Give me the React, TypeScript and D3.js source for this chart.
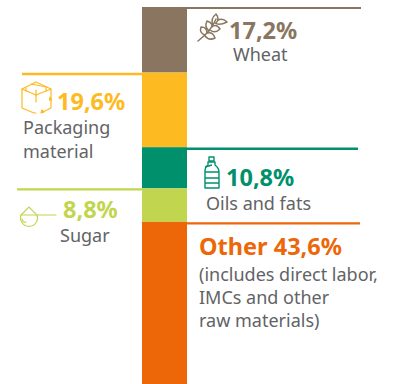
import React from "react";
import * as d3 from "d3";

const categories = ["Wheat", "Packaging material", "Oils and fats", "Sugar", "Other"];
const values = [17.2, 19.6, 10.8, 8.8, 43.6];
const percentLabels = ["17,2%", "19,6%", "10,8%", "8,8%", "Other 43,6%"];
const colors = ["#8a7660", "#fdba21", "#00906b", "#c1d64e", "#ed6608"];
const GREY = "#626366";
const FONT = "'Noto Sans', sans-serif";

function Wheat({ c }: { c: string }) {
  const leaf = (d: string, i: number) => <path key={i} d={d} />;
  return (
    <g transform="translate(198,14)" fill="none" stroke={c} strokeWidth={1.5} strokeLinecap="round" strokeLinejoin="round">
      {[
        "M0,27 L7,21 Q14,14 18,5",
        "M7,21 Q1,19 3,13 Q9,13 9,19",
        "M11,17 Q6,13 9,7 Q15,9 14,13",
        "M15,11 Q12,5 18,0 Q22,5 18,9",
        "M7,22 Q11,27 17,24 Q15,18 10,19",
        "M12,16 Q17,20 22,15 Q19,10 15,12",
        "M17,9 Q21,12 29,8 Q25,4 20,6",
      ].map(leaf)}
    </g>
  );
}

function Box({ c }: { c: string }) {
  return (
    <g transform="translate(22,82)" fill="none" stroke={c} strokeWidth={1.2} strokeLinejoin="round" strokeLinecap="round">
      <path d="M14,0 L29,7 L14,13 L0,7 Z" />
      <path d="M4,9 L4,6 M24,9 L24,5 L9,2" />
      <path d="M0,7 L0,26 L12,31 L14,31 M14,13 L14,20 M29,7 L29,26 L21,30" />
      <path d="M14,8 L14,13" />
      <path d="M27.5,18 L28,15 L29.5,18 Z M19,31 L22,30 L20,28 Z" fill={c} />
    </g>
  );
}

function Bottle({ c }: { c: string }) {
  return (
    <g transform="translate(204,157)" fill="none" stroke={c} strokeWidth={1.4} strokeLinejoin="round">
      <path d="M5,0 L10,0 L10,4 L5,4 Z" />
      <path d="M4,5 L11,5 L11,8 Q15,11 15,15 L15,31 L1,31 L1,14 Q1,10 4,8 Z" />
      <path d="M1,15 L15,15 M1,21 L15,21 M1,26 L15,26 M1,10 L8,8" />
    </g>
  );
}

function Sugar({ c }: { c: string }) {
  return (
    <g transform="translate(20,206)" fill="none" stroke={c} strokeWidth={1.2} strokeLinecap="round">
      <path d="M1,9 L9,1 L17,9 A8.5,8.5 0 1 1 1,9" />
      <path d="M1,9 L36,9" />
      <path d="M2,13 Q3,17 6,16" />
    </g>
  );
}

export default function App() {
  const y = d3.scaleLinear().domain([0, 100]).range([7, 388]);
  const cum = d3.cumsum(values);
  const tops = values.map((_, i) => y(i === 0 ? 0 : cum[i - 1]));
  const bots = values.map((_, i) => y(cum[i]));
  const barX = 142;
  const barR = 187;

  const rules: [number, number, number, number][] = [
    [barX, 361, tops[0] + 1, 2],
    [22, barX, tops[1] + 1.5, 2.4],
    [barR, 358, tops[2] + 1.5, 2.4],
    [17, barX, tops[3] + 1, 2.4],
    [barR, 360, tops[4] + 1.5, 2.4],
  ];

  const pct = (i: number, x: number, yy: number, size = 23.5) => (
    <text x={x} y={yy} fontSize={size} fontWeight={700} fill={colors[i]}>{percentLabels[i]}</text>
  );
  const lab = (t: string, x: number, yy: number) => (
    <text x={x} y={yy} fontSize={18} fill={GREY}>{t}</text>
  );

  return (
    <svg width={396} height={384} style={{ position: "absolute", left: 0, top: 0 }} fontFamily={FONT}>
      <rect width={396} height={384} fill="#fff" />
      {values.map((_, i) => (
        <rect key={categories[i]} x={barX} width={barR - barX} y={tops[i]} height={bots[i] - tops[i]} fill={colors[i]} />
      ))}
      {rules.map(([a, b, yy, w], i) => (
        <line key={i} x1={a} x2={b} y1={yy} y2={yy} stroke={colors[i]} strokeWidth={w} />
      ))}
      <Wheat c={colors[0]} />
      {pct(0, 229, 39)}
      {lab("Wheat", 233, 61)}
      <Box c={colors[1]} />
      {pct(1, 57, 110)}
      {lab("Packaging", 23, 134)}
      {lab("material", 23, 158)}
      <Bottle c={colors[2]} />
      {pct(2, 226, 186)}
      {lab("Oils and fats", 206, 210)}
      <Sugar c={colors[3]} />
      {pct(3, 63, 218)}
      {lab("Sugar", 60, 242)}
      {pct(4, 199, 255)}
      {lab("(includes direct labor,", 199, 281)}
      {lab("IMCs and other", 199, 304)}
      {lab("raw materials)", 199, 327)}
    </svg>
  );
}
